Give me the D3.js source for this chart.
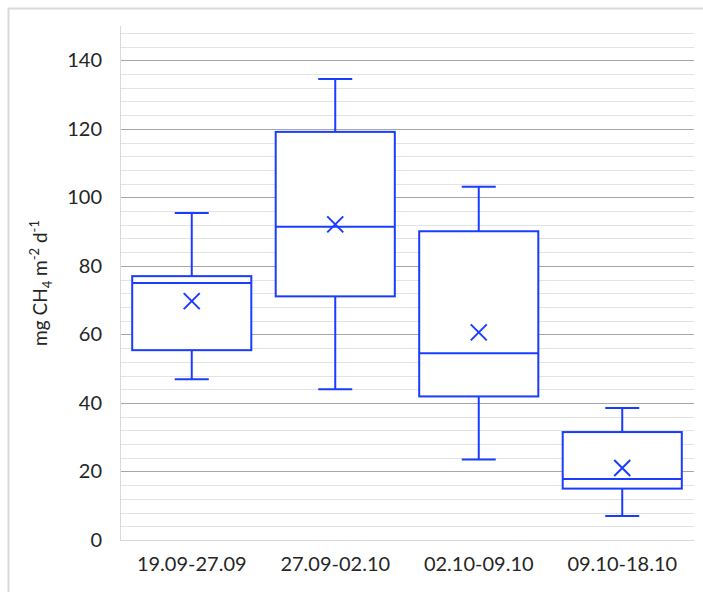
<!DOCTYPE html>
<html lang="en">
<head>
    <meta charset="UTF-8">
    <title>CH4 box plot</title>
    <style>
        body {
            margin: 0;
            padding: 0;
            background-color: #ffffff;
        }
        svg text {
            font-family: Lato, "Noto Sans", sans-serif;
            fill: #262626;
        }
    </style>
</head>
<body>
    <svg id="chart" width="703" height="592"></svg>

    <script src="https://d3js.org/d3.v7.min.js"></script>
    <script>
        // data
        var periods = ['19.09-27.09', '27.09-02.10', '02.10-09.10', '09.10-18.10'];
        var whiskerLow = [46.9, 44.0, 23.5, 7.0];
        var q1 = [55.4, 71.1, 41.9, 15.0];
        var median = [75.0, 91.4, 54.5, 17.8];
        var q3 = [77.0, 119.1, 90.1, 31.5];
        var whiskerHigh = [95.4, 134.5, 103.1, 38.5];
        var mean = [69.7, 92.1, 60.6, 21.0];
        var yTicks = [0, 20, 40, 60, 80, 100, 120, 140];

        var boxes = periods.map(function(p, i) {
            return { period: p, lo: whiskerLow[i], q1: q1[i], med: median[i], q3: q3[i], hi: whiskerHigh[i], mean: mean[i] };
        });

        var margin = { top: 26, right: 9, bottom: 52, left: 120 };
        var width = 703 - margin.left - margin.right;
        var height = 592 - margin.top - margin.bottom;
        var blue = '#1a3cff';

        var root = d3.select('#chart');

        // outer chart frame
        root.append('rect')
            .attr('x', 8.5)
            .attr('y', 8.5)
            .attr('width', 720)
            .attr('height', 620)
            .attr('fill', 'none')
            .attr('stroke', '#d9d9d9')
            .attr('stroke-width', 2);

        var svg = root.append('g')
            .attr('transform', 'translate(' + margin.left + ',' + margin.top + ')');

        var x = d3.scaleBand()
            .domain(periods)
            .range([0, width])
            .paddingInner(0.17)
            .paddingOuter(0.085);

        var y = d3.scaleLinear()
            .domain([0, 150])
            .range([height, 0]);

        // minor gridlines
        svg.append('g')
            .selectAll('line')
            .data(d3.range(4, 150, 4).filter(function(v) { return v % 20 !== 0; }))
            .enter()
            .append('line')
            .attr('x1', 0)
            .attr('x2', width)
            .attr('y1', function(d) { return Math.round(y(d)) + 0.5; })
            .attr('y2', function(d) { return Math.round(y(d)) + 0.5; })
            .attr('stroke', '#e3e3e3')
            .attr('stroke-width', 1);

        // major gridlines
        svg.append('g')
            .selectAll('line')
            .data(yTicks.slice(1))
            .enter()
            .append('line')
            .attr('x1', 0)
            .attr('x2', width)
            .attr('y1', function(d) { return Math.round(y(d)) + 0.5; })
            .attr('y2', function(d) { return Math.round(y(d)) + 0.5; })
            .attr('stroke', '#a6a6a6')
            .attr('stroke-width', 1);

        // axis lines (light)
        svg.append('line')
            .attr('x1', 0.5).attr('x2', 0.5)
            .attr('y1', 0).attr('y2', height)
            .attr('stroke', '#d9d9d9');
        svg.append('line')
            .attr('x1', 0).attr('x2', width)
            .attr('y1', Math.round(y(0)) + 0.5).attr('y2', Math.round(y(0)) + 0.5)
            .attr('stroke', '#d9d9d9');

        // y axis labels
        var yAxis = svg.append('g')
            .call(d3.axisLeft(y).tickValues(yTicks).tickSize(0).tickPadding(18));
        yAxis.select('.domain').remove();
        yAxis.selectAll('text')
            .style('font-size', '20px')
            .attr('fill', '#303030');

        // x axis labels
        var xAxis = svg.append('g')
            .attr('transform', 'translate(0,' + height + ')')
            .call(d3.axisBottom(x).tickSize(0).tickPadding(17));
        xAxis.select('.domain').remove();
        xAxis.selectAll('text')
            .style('font-size', '20px')
            .attr('fill', '#303030');

        // y axis title
        var title = svg.append('text')
            .attr('transform', 'translate(' + (-73) + ',' + (height / 2) + ') rotate(-90)')
            .style('text-anchor', 'middle')
            .style('font-size', '19px');
        title.append('tspan').text('mg CH');
        title.append('tspan').attr('dy', 5).style('font-size', '13px').text('4');
        title.append('tspan').attr('dy', -5).text(' m');
        title.append('tspan').attr('dy', -8).style('font-size', '13px').text('-2');
        title.append('tspan').attr('dy', 8).text(' d');
        title.append('tspan').attr('dy', -8).style('font-size', '13px').text('-1');

        // boxes
        var bw = x.bandwidth();
        var capW = 34;
        var g = svg.selectAll('.box')
            .data(boxes)
            .enter()
            .append('g')
            .attr('class', 'box')
            .attr('transform', function(d) { return 'translate(' + x(d.period) + ',0)'; });

        // whiskers
        g.append('line')
            .attr('x1', bw / 2).attr('x2', bw / 2)
            .attr('y1', function(d) { return y(d.hi); })
            .attr('y2', function(d) { return y(d.q3); })
            .attr('stroke', blue).attr('stroke-width', 2);
        g.append('line')
            .attr('x1', bw / 2).attr('x2', bw / 2)
            .attr('y1', function(d) { return y(d.q1); })
            .attr('y2', function(d) { return y(d.lo); })
            .attr('stroke', blue).attr('stroke-width', 2);
        g.append('line')
            .attr('x1', bw / 2 - capW / 2).attr('x2', bw / 2 + capW / 2)
            .attr('y1', function(d) { return y(d.hi); })
            .attr('y2', function(d) { return y(d.hi); })
            .attr('stroke', blue).attr('stroke-width', 2);
        g.append('line')
            .attr('x1', bw / 2 - capW / 2).attr('x2', bw / 2 + capW / 2)
            .attr('y1', function(d) { return y(d.lo); })
            .attr('y2', function(d) { return y(d.lo); })
            .attr('stroke', blue).attr('stroke-width', 2);

        // box
        g.append('rect')
            .attr('x', 0)
            .attr('width', bw)
            .attr('y', function(d) { return y(d.q3); })
            .attr('height', function(d) { return y(d.q1) - y(d.q3); })
            .attr('fill', '#ffffff')
            .attr('stroke', blue)
            .attr('stroke-width', 2);

        // median
        g.append('line')
            .attr('x1', 0).attr('x2', bw)
            .attr('y1', function(d) { return y(d.med); })
            .attr('y2', function(d) { return y(d.med); })
            .attr('stroke', blue).attr('stroke-width', 2);

        // mean marker (x)
        var m = 8;
        g.append('path')
            .attr('d', function(d) {
                var cx = bw / 2, cy = y(d.mean);
                return 'M' + (cx - m) + ',' + (cy - m) + 'L' + (cx + m) + ',' + (cy + m) +
                    'M' + (cx - m) + ',' + (cy + m) + 'L' + (cx + m) + ',' + (cy - m);
            })
            .attr('stroke', blue)
            .attr('stroke-width', 2)
            .attr('fill', 'none');
    </script>
</body>
</html>
